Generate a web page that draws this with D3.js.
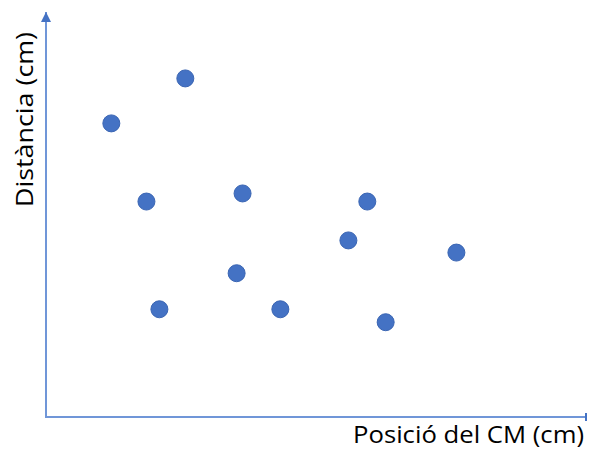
<!DOCTYPE html>
<html><head><meta charset="utf-8">
<script src="https://cdn.jsdelivr.net/npm/d3@7"></script>
<style>body{margin:0;background:#fff}</style>
</head><body>
<svg id="c" width="589" height="450"></svg>
<script>
const xValues = [1.21, 2.58, 1.86, 3.64, 5.95, 5.60, 7.60, 3.53, 2.10, 4.34, 6.29];
const yValues = [7.25, 8.36, 5.32, 5.52, 5.32, 4.36, 4.06, 3.55, 2.66, 2.66, 2.34];
const xLabel = "Posició del CM (cm)";
const yLabel = "Distància (cm)";

const svg = d3.select("#c");
const x = d3.scaleLinear().domain([0, 10]).range([46, 586]);
const y = d3.scaleLinear().domain([0, 10]).range([417, 12]);
const axisColor = "#7096d8";

svg.append("defs").append("marker")
  .attr("id", "arr").attr("viewBox", "0 0 10 10").attr("refX", 10).attr("refY", 5)
  .attr("markerWidth", 10).attr("markerHeight", 10).attr("markerUnits", "userSpaceOnUse")
  .attr("orient", "auto")
  .append("path").attr("d", "M0,0 L10,5 L0,10 Z").attr("fill", "#4472c4");

svg.append("line").attr("x1", x(0)).attr("x2", x(0)).attr("y1", y(0) + 1).attr("y2", y(10))
  .attr("stroke", axisColor).attr("stroke-width", 2).attr("marker-end", "url(#arr)");
svg.append("line").attr("x1", x(0)).attr("x2", x(10)).attr("y1", y(0)).attr("y2", y(0))
  .attr("stroke", axisColor).attr("stroke-width", 2);
svg.append("line").attr("x1", x(10)).attr("x2", x(10)).attr("y1", y(0) - 4).attr("y2", y(0) + 4)
  .attr("stroke", "#4472c4").attr("stroke-width", 2);

svg.selectAll("circle.pt").data(xValues.map((v, i) => [v, yValues[i]]))
  .enter().append("circle").attr("class", "pt")
  .attr("cx", d => x(d[0])).attr("cy", d => y(d[1])).attr("r", 8.5)
  .attr("fill", "#4472c4").attr("stroke", "#3a65b3").attr("stroke-width", 1);

svg.append("text").attr("x", 353).attr("y", 443)
  .attr("font-family", "Open Sans, sans-serif").attr("font-size", 23).attr("fill", "#000")
  .attr("textLength", 231).attr("lengthAdjust", "spacingAndGlyphs")
  .text(xLabel);
svg.append("text").attr("transform", "translate(33,207) rotate(-90)")
  .attr("font-family", "Open Sans, sans-serif").attr("font-size", 24).attr("fill", "#000")
  .attr("textLength", 175).attr("lengthAdjust", "spacingAndGlyphs")
  .text(yLabel);
</script>
</body></html>
